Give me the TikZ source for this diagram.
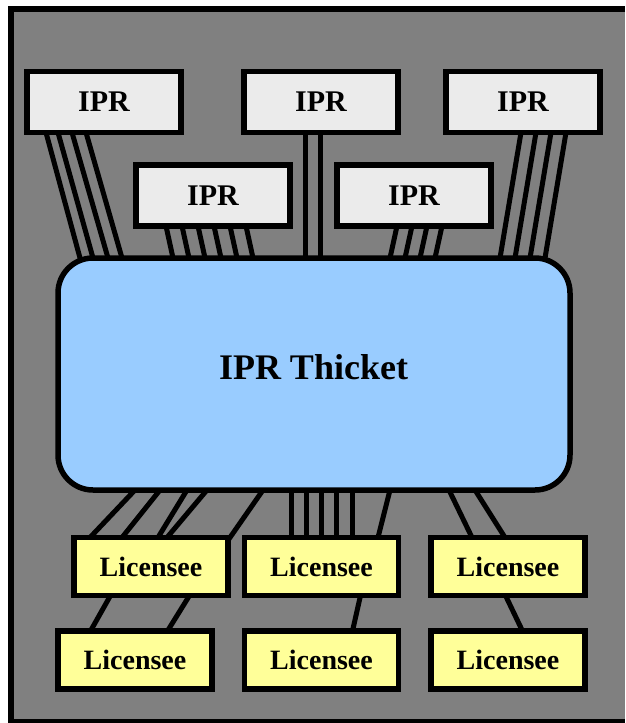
\documentclass[tikz,border=0pt]{standalone}
\usepackage{fontspec}
\setmainfont{Liberation Serif}
\usetikzlibrary{calc}
\pgfdeclarelayer{bg}
\pgfsetlayers{bg,main}
\definecolor{bggray}{HTML}{808080}
\definecolor{iprfill}{HTML}{EBEBEB}
\definecolor{licfill}{HTML}{FFFF99}
\definecolor{thfill}{HTML}{99CCFF}
\tikzset{
  framefill/.style={fill=bggray},
  frameline/.style={draw=black, line width=6pt},
  iprbox/.style={draw=black, line width=5.5pt, fill=iprfill, inner sep=0pt, outer sep=0pt,
    minimum width=154pt, minimum height=61pt, font=\fontsize{30}{34}\selectfont\bfseries},
  licbox/.style={draw=black, line width=5.5pt, fill=licfill, inner sep=0pt, outer sep=0pt,
    minimum width=154pt, minimum height=58pt, font=\fontsize{28}{33}\selectfont\bfseries},
  thicket/.style={draw=black, line width=5.5pt, fill=thfill, inner sep=0pt, outer sep=0pt,
    rounded corners=35pt, minimum width=512pt, minimum height=232pt},
  thlabelstyle/.style={inner sep=0pt, font=\fontsize{36}{40}\selectfont\bfseries},
  conn/.style={draw=black, line width=5pt, shorten <=-8pt, shorten >=-8pt}
}
\begin{document}
\begin{tikzpicture}[x=1pt,y=-1pt]
\useasboundingbox (0,0) rectangle (625,723);
% boxes
\node[iprbox] (ipr1) at (104,102) {IPR};
\node[iprbox] (ipr2) at (321,102) {IPR};
\node[iprbox] (ipr3) at (523,102) {IPR};
\node[iprbox] (ipr4) at (213,195.5) {IPR};
\node[iprbox] (ipr5) at (414,195.5) {IPR};
\node[thicket] (th) at (314,374) {};
\node[thlabelstyle] (thlabel) at (313.5,367) {IPR Thicket};
\node[licbox] (l1) at (151,566.5) {Licensee};
\node[licbox] (l2) at (321.5,566.5) {Licensee};
\node[licbox] (l3) at (508,566.5) {Licensee};
\node[licbox] (l4) at (135,660) {Licensee};
\node[licbox] (l5) at (321.5,660) {Licensee};
\node[licbox] (l6) at (508,660) {Licensee};
\begin{pgfonlayer}{bg}
\path[framefill] (11,9) rectangle (625,722);
\draw[frameline] (625,9) -- (11,9) -- (11,722) -- (625,722);
% IPR -> thicket
\foreach \a/\b in {46/80,58/93,72/108,86/122}
  \draw[conn] (\a,0 |- ipr1.south) -- (\b,0 |- th.north);
\foreach \a/\b in {166/173,182/189,198/205,214/221,230/237,246/253}
  \draw[conn] (\a,0 |- ipr4.south) -- (\b,0 |- th.north);
\foreach \a/\b in {305.5/305.5,320.5/320.5}
  \draw[conn] (\a,0 |- ipr2.south) -- (\b,0 |- th.north);
\foreach \a/\b in {397/390,412/405,427/420,442/435}
  \draw[conn] (\a,0 |- ipr5.south) -- (\b,0 |- th.north);
\foreach \a/\b in {521/500,536/515,551/530,566/545}
  \draw[conn] (\a,0 |- ipr3.south) -- (\b,0 |- th.north);
% thicket -> licensees
\foreach \a/\b in {135/90,160/122,187/158,207/167,263/230}
  \draw[conn] (\a,0 |- th.south) -- (\b,0 |- l1.north);
\foreach \a/\b in {291/291,306/306,321/321,336/336,352/352,390/378}
  \draw[conn] (\a,0 |- th.south) -- (\b,0 |- l2.north);
\foreach \a/\b in {449/472,475/505}
  \draw[conn] (\a,0 |- th.south) -- (\b,0 |- l3.north);
% row 1 -> row 2
\foreach \a/\b in {110.5/90.5,189.5/167.5}
  \draw[conn] (\a,0 |- l1.south) -- (\b,0 |- l4.north);
\draw[conn] (360.5,0 |- l2.south) -- (352.5,0 |- l5.north);
\draw[conn] (505.5,0 |- l3.south) -- (522.5,0 |- l6.north);
\end{pgfonlayer}
\end{tikzpicture}
\end{document}
